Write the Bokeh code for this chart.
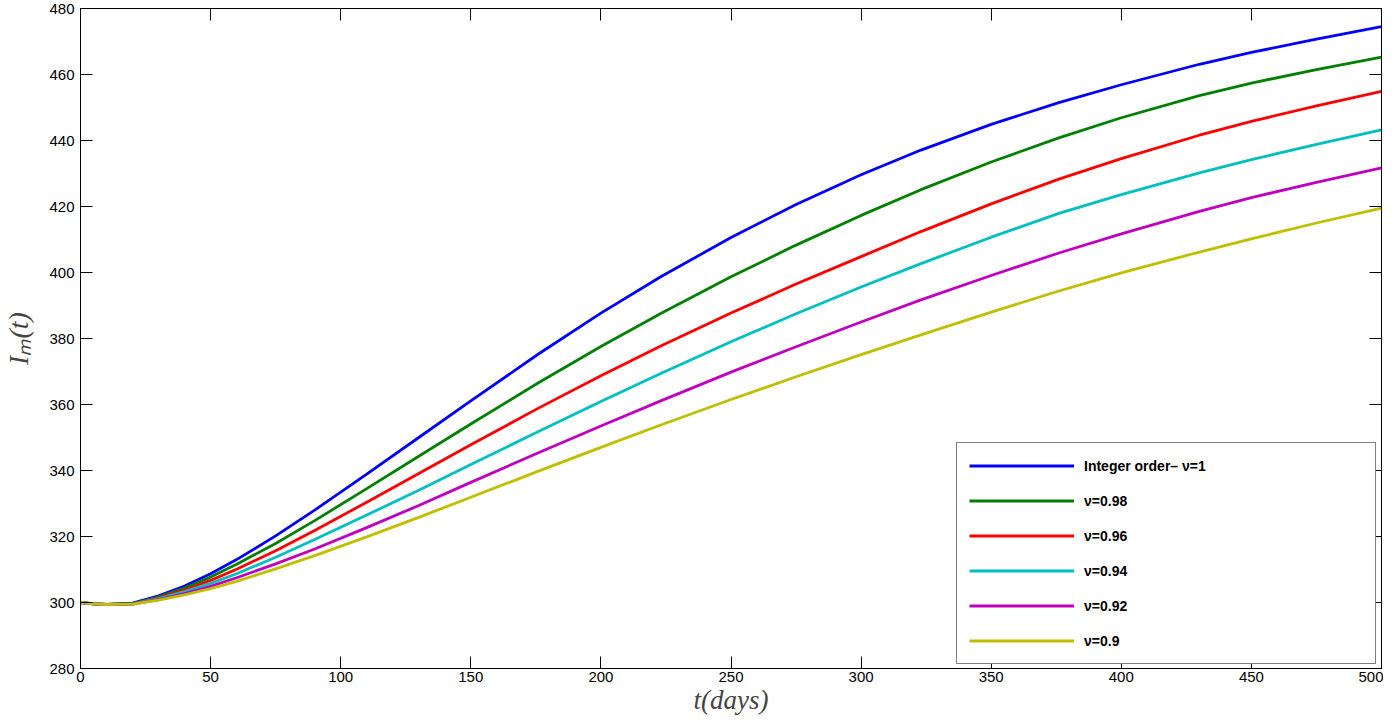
from bokeh.plotting import figure
from bokeh.models import Range1d, LinearAxis, FixedTicker, Legend, LegendItem
from bokeh.embed import file_html
from bokeh.resources import INLINE

# time (days)
t = [0, 5, 10, 20, 30, 40, 50, 60, 75, 90, 110, 130, 150, 176, 200, 223, 250,
     275, 300, 323, 350, 376, 400, 430, 450, 475, 500]

nu_100 = [300.0, 299.6, 299.4, 299.8, 302.0, 305.0, 308.7, 313.0, 320.2, 328.0,
          338.9, 350.0, 361.1, 375.3, 387.7, 398.7, 410.6, 420.6, 429.6, 437.1,
          444.9, 451.5, 456.9, 463.1, 466.7, 470.7, 474.5]
nu_098 = [300.0, 299.6, 299.4, 299.7, 301.7, 304.4, 307.7, 311.6, 317.9, 324.8,
          334.5, 344.3, 354.1, 366.6, 377.6, 387.6, 398.7, 408.3, 417.3, 425.1,
          433.5, 440.8, 446.9, 453.6, 457.4, 461.5, 465.3]
nu_096 = [300.0, 299.6, 299.4, 299.6, 301.4, 303.8, 306.7, 310.1, 315.7, 321.8,
          330.4, 339.1, 347.8, 358.9, 368.7, 377.7, 387.7, 396.5, 404.8, 412.4,
          420.8, 428.3, 434.5, 441.6, 445.8, 450.5, 454.9]
nu_094 = [300.0, 299.6, 299.4, 299.6, 301.2, 303.3, 305.8, 308.7, 313.7, 319.1,
          326.5, 334.0, 341.8, 351.8, 360.9, 369.4, 379.0, 387.5, 395.6, 402.7,
          410.7, 417.9, 423.6, 430.2, 434.2, 438.8, 443.2]
nu_092 = [300.0, 299.6, 299.4, 299.5, 300.9, 302.7, 304.9, 307.5, 311.7, 316.2,
          322.7, 329.4, 336.4, 345.4, 353.5, 361.1, 369.8, 377.5, 385.0, 391.7,
          399.1, 405.9, 411.7, 418.5, 422.7, 427.3, 431.7]
nu_090 = [300.0, 299.6, 299.4, 299.5, 300.7, 302.3, 304.2, 306.4, 310.2, 314.2,
          319.9, 325.8, 331.9, 339.8, 347.0, 353.8, 361.5, 368.4, 375.1, 381.1,
          388.0, 394.4, 399.9, 406.2, 410.2, 415.0, 419.5]

series = [nu_100, nu_098, nu_096, nu_094, nu_092, nu_090]
labels = ["Integer order\u2013 \u03bd=1", "\u03bd=0.98", "\u03bd=0.96",
          "\u03bd=0.94", "\u03bd=0.92", "\u03bd=0.9"]
colors = ["#0000FF", "#008000", "#FF0000", "#00BFBF", "#BF00BF", "#BFBF00"]

x_ticks = [0, 50, 100, 150, 200, 250, 300, 350, 400, 450, 500]
y_ticks = [280, 300, 320, 340, 360, 380, 400, 420, 440, 460, 480]

p = figure(width=1383, height=717, output_backend="svg", toolbar_location=None,
           x_range=Range1d(0, 500), y_range=Range1d(280, 480),
           min_border_left=76, min_border_right=2, min_border_top=8,
           min_border_bottom=49)
p.xgrid.visible = False
p.ygrid.visible = False
p.outline_line_color = "black"
p.background_fill_color = "white"

def style_axis(ax, ticks, show_labels=True):
    ax.ticker = FixedTicker(ticks=ticks)
    ax.axis_line_color = "black"
    ax.axis_line_width = 1
    ax.major_tick_in = 12
    ax.major_tick_out = 0
    ax.major_tick_line_color = "black"
    ax.minor_tick_line_color = None
    if show_labels:
        ax.major_label_text_font = "Liberation Sans"
        ax.major_label_text_font_size = "15px"
        ax.major_label_text_color = "black"
    else:
        ax.major_label_text_font_size = "1px"
        ax.major_label_text_color = None
        ax.major_label_standoff = 0
        ax.axis_label_standoff = 0

xa = p.xaxis[0]
style_axis(xa, x_ticks)
xa.major_label_standoff = 3
xa.axis_label = "t(days)"
xa.axis_label_text_font = "Liberation Serif"
xa.axis_label_text_font_style = "italic"
xa.axis_label_text_font_size = "27px"
xa.axis_label_standoff = 0

ya = p.yaxis[0]
style_axis(ya, y_ticks)
ya.major_label_standoff = 6
ya.axis_label = "I\u2098(t)"
ya.axis_label_text_font = "Liberation Serif"
ya.axis_label_text_font_style = "italic"
ya.axis_label_text_font_size = "28px"
ya.axis_label_standoff = 12

top = LinearAxis()
style_axis(top, x_ticks, show_labels=False)
p.add_layout(top, "above")
right = LinearAxis()
style_axis(right, y_ticks, show_labels=False)
p.add_layout(right, "right")

items = []
for ys, lab, col in zip(series, labels, colors):
    r = p.line(t, ys, line_color=col, line_width=2.8)
    items.append(LegendItem(label=lab, renderers=[r]))

legend = Legend(items=items, location=(876, 4))
legend.padding = 12
legend.margin = 0
legend.spacing = 14
legend.glyph_width = 105
legend.glyph_height = 21
legend.label_standoff = 10
legend.label_width = 279
legend.label_text_font = "Liberation Sans"
legend.label_text_font_style = "bold"
legend.label_text_font_size = "14px"
legend.label_text_color = "black"
legend.border_line_color = "black"
legend.border_line_width = 1
legend.background_fill_color = "white"
legend.background_fill_alpha = 1.0
p.add_layout(legend)

open("out.html", "w").write(file_html(p, INLINE))
